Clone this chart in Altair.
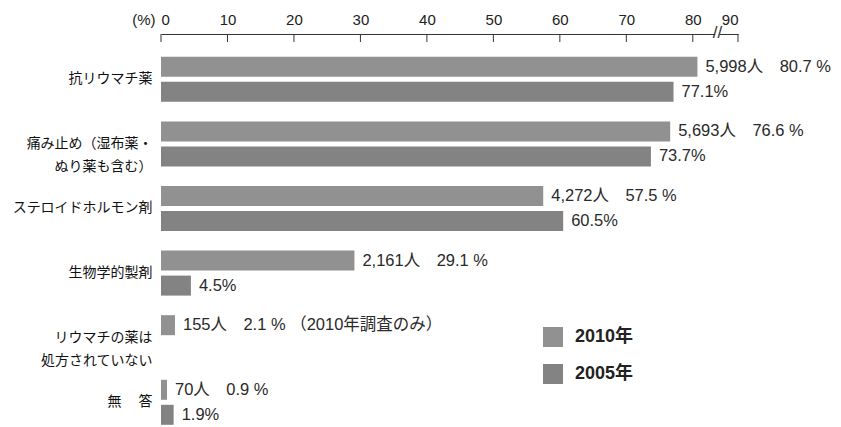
import altair as alt
import pandas as pd

# ---- data ----
categories = ["抗リウマチ薬", "痛み止め（湿布薬・|ぬり薬も含む）", "ステロイドホルモン剤",
              "生物学的製剤", "リウマチの薬は|処方されていない", "無　  答"]
years = ["2010年", "2005年"]
pct_2010 = [80.7, 76.6, 57.5, 29.1, 2.1, 0.9]
people_2010 = ["5,998", "5,693", "4,272", "2,161", "155", "70"]
notes_2010 = ["", "", "", "", "（2010年調査のみ）", ""]
pct_2005 = [77.1, 73.7, 60.5, 4.5, None, 1.9]

tick_values = [0, 10, 20, 30, 40, 50, 60, 70, 80]
broken_tick_pos = 86.8      # where the "90" tick sits after the axis break
broken_tick_label = "90"
break_pos = 83.7            # axis break marks

rows = []
for c, v, n, note in zip(categories, pct_2010, people_2010, notes_2010):
    rows.append({"category": c, "year": years[0], "value": v,
                 "label": f"{n}人　{v} %{'   ' + note if note else ''}"})
for c, v in zip(categories, pct_2005):
    if v is not None:
        rows.append({"category": c, "year": years[1], "value": v, "label": f"{v}%"})
df = pd.DataFrame(rows)

all_ticks = tick_values + [broken_tick_pos]

x_scale = alt.Scale(domain=[0, broken_tick_pos], nice=False, zero=True)
x_enc = alt.X(
    "value:Q", scale=x_scale,
    axis=alt.Axis(
        orient="top", values=all_ticks,
        labelExpr=f"datum.value > 85 ? '{broken_tick_label}' : datum.label",
        ticks=False, domain=True, domainColor="#333", domainWidth=1,
        offset=13, labelPadding=6, grid=False,
        labelFontSize=15, labelColor="#222", labelFont="Liberation Sans",
        title="(%)", titleAngle=0, titleX=-6, titleY=-6,
        titleAlign="right", titleBaseline="bottom",
        titleFontSize=15, titleFontWeight="normal", titleColor="#222",
        titleFont="Liberation Sans",
    ),
)
y_enc = alt.Y(
    "category:N", sort=categories,
    scale=alt.Scale(paddingInner=0, paddingOuter=0),
    axis=alt.Axis(
        title=None, domain=False, ticks=False, labelPadding=9,
        labelFontSize=14, labelColor="#111", labelFont="Noto Sans CJK JP",
        labelExpr="split(datum.label, '|')", labelLineHeight=23,
    ),
)
yoff_enc = alt.YOffset("year:N", sort=years,
                       scale=alt.Scale(domain=years, paddingInner=0.2, paddingOuter=0.392))

color_enc = alt.Color(
    "year:N",
    scale=alt.Scale(domain=years, range=["#919191", "#838383"]),
    legend=alt.Legend(
        title=None, orient="none", legendX=382, legendY=280,
        symbolType="square", symbolSize=400, symbolStrokeWidth=0,
        labelFontSize=18, labelFontWeight="bold", labelColor="#222",
        labelFont="Liberation Sans, Noto Sans CJK JP",
        rowPadding=17, labelOffset=12,
    ),
)

bars = alt.Chart(df).mark_bar().encode(x=x_enc, y=y_enc, yOffset=yoff_enc, color=color_enc)

texts = alt.Chart(df).mark_text(
    align="left", baseline="middle", dx=8, fontSize=16.5, color="#2a2a2a",
    font="Liberation Sans, Noto Sans CJK JP",
).encode(x="value:Q", y=alt.Y("category:N", sort=categories),
         yOffset=alt.YOffset("year:N", sort=years), text="label:N")

ticks = alt.Chart(pd.DataFrame({"t": all_ticks})).mark_rule(
    color="#333", strokeWidth=1
).encode(x="t:Q", y=alt.value(-13), y2=alt.value(-5))

gap = alt.Chart(pd.DataFrame({"a": [break_pos - 0.35], "b": [break_pos + 0.35]})).mark_rule(
    color="white", strokeWidth=3
).encode(x="a:Q", x2="b:Q", y=alt.value(-13))

brk = alt.Chart(pd.DataFrame({"p": [break_pos], "s": ["//"]})).mark_text(
    fontSize=17, color="#333", baseline="middle", align="center", font="Liberation Sans"
).encode(x="p:Q", y=alt.value(-14), text="s:N")

chart = alt.layer(bars, texts, ticks, gap, brk).properties(
    width=577, height=387.6,
    autosize=alt.AutoSizeParams(type="none"),
    padding={"left": 153, "top": 39, "right": 93, "bottom": 0},
    background="white",
).configure_view(stroke=None)

chart.save("out.html", embed_options={"renderer": "svg", "actions": False})
